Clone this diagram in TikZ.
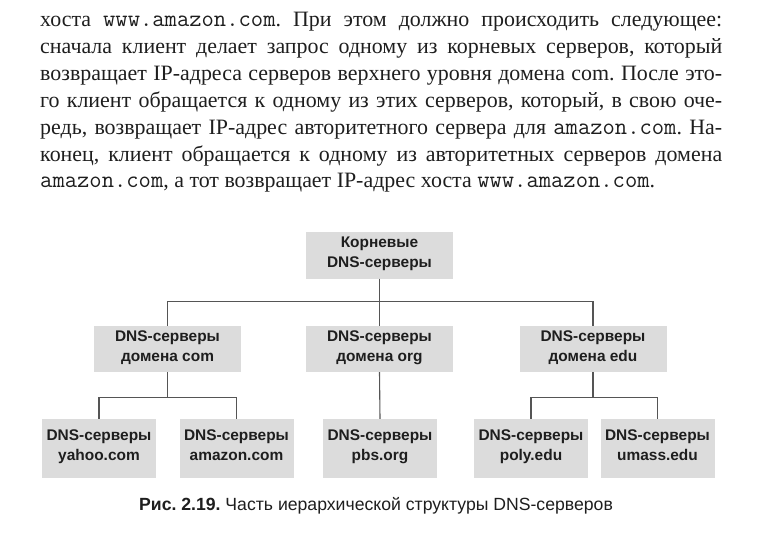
\documentclass[tikz,border=0pt]{standalone}
\usepackage{fontspec}
\setmainfont{Liberation Serif}
\newfontfamily\diagfont{Liberation Sans}
\newcommand\site[1]{{\fontsize{24}{27}\selectfont\ttfamily #1}}
\definecolor{boxgray}{RGB}{220,220,220}
\definecolor{linegray}{RGB}{85,85,85}
\definecolor{inkgray}{RGB}{30,30,30}
\frenchspacing
\begin{document}
\begin{tikzpicture}[x=1bp,y=-1bp,
	dnsbox/.style={fill=boxgray,inner sep=0pt,minimum width=147bp,minimum height=46bp,
		align=center,text=inkgray,font=\diagfont\bfseries\fontsize{15.5}{20}\selectfont,
		execute at begin node=\strut,execute at end node=\strut},
	leafbox/.style={dnsbox,minimum width=114bp,minimum height=59bp},
	link/.style={draw=linegray,line width=1.1bp}]
	\useasboundingbox (0,0) rectangle (781,537);
	% text above the figure
	\node[anchor=north west,inner sep=0pt,align=left,text=inkgray,
		font=\fontsize{22}{27}\selectfont] (para) at (40,12) {%
		\makebox[682bp][s]{хоста \site{www.amazon.com}. При этом должно происходить следующее:}\\
		\makebox[682bp][s]{сначала клиент делает запрос одному из корневых серверов, который}\\
		\makebox[682bp][s]{возвращает IP-адреса серверов верхнего уровня домена com. После это-}\\
		\makebox[682bp][s]{го клиент обращается к одному из этих серверов, который, в свою оче-}\\
		\makebox[682bp][s]{редь, возвращает IP-адрес авторитетного сервера для \site{amazon.com}. На-}\\
		\makebox[682bp][s]{конец, клиент обращается к одному из авторитетных серверов домена}\\
		\site{amazon.com}, а тот возвращает IP-адрес хоста \site{www.amazon.com}.};
	% tree
	\node[dnsbox] (root) at (379.5,255.5) {Корневые\\DNS-серверы};
	\node[dnsbox] (com) at (167.5,349) {DNS-серверы\\домена com};
	\node[dnsbox] (org) at (379.5,349) {DNS-серверы\\домена org};
	\node[dnsbox] (edu) at (593,349) {DNS-серверы\\домена edu};
	\node[leafbox] (yahoo) at (99,448.5) {DNS-серверы\\yahoo.com};
	\node[leafbox] (amazon) at (236.5,448.5) {DNS-серверы\\amazon.com};
	\node[leafbox] (pbs) at (380,448.5) {DNS-серверы\\pbs.org};
	\node[leafbox] (poly) at (531,448.5) {DNS-серверы\\poly.edu};
	\node[leafbox] (umass) at (657.5,448.5) {DNS-серверы\\umass.edu};
	\draw[link] (root.south) -- ++(0,23) coordinate (rootfork);
	\draw[link] (com.north) |- (rootfork) -| (edu.north);
	\draw[link] (rootfork) -- (org.north);
	\draw[link] (com.south) -- ++(0,25) coordinate (comfork);
	\draw[link] (yahoo.north) |- (comfork) -| (amazon.north);
	\draw[link] (org.south) -- (pbs.north);
	\draw[link] (edu.south) -- ++(0,25) coordinate (edufork);
	\draw[link] (poly.north) |- (edufork) -| (umass.north);
	% caption
	\node[anchor=base,inner sep=0pt,text=inkgray,font=\diagfont\fontsize{17.7}{21}\selectfont]
		(caption) at (376,510) {\textbf{Рис. 2.19.} Часть иерархической структуры DNS-серверов};
\end{tikzpicture}
\end{document}
